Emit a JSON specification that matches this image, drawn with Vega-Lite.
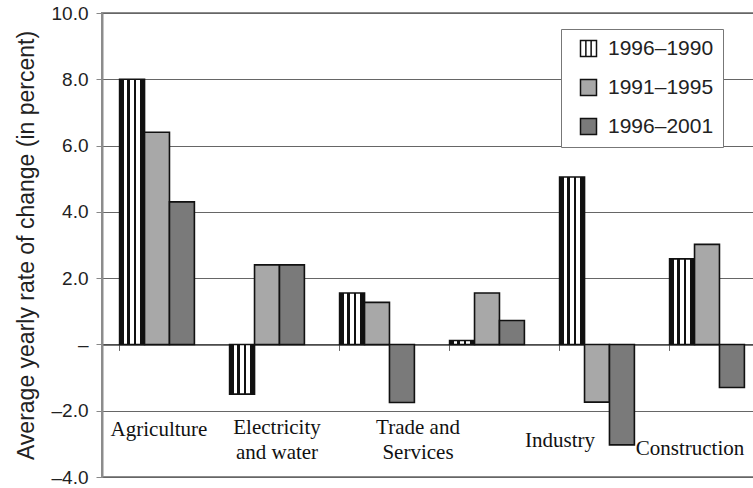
{
  "$schema": "https://vega.github.io/schema/vega-lite/v6.json",
  "width": 660,
  "height": 464,
  "autosize": {"type": "none"},
  "padding": {"left": 102, "top": 13, "right": 0, "bottom": 11},
  "background": "white",
  "config": {
    "view": {"stroke": "#8c8c8c", "strokeWidth": 2},
    "font": "Liberation Sans"
  },
  "datasets": {
    "bars": [
      {"sector": "Agriculture", "period": "1996–1990", "value": 8.0},
      {"sector": "Agriculture", "period": "1991–1995", "value": 6.4},
      {"sector": "Agriculture", "period": "1996–2001", "value": 4.3},
      {"sector": "Electricity and water", "period": "1996–1990", "value": -1.5},
      {"sector": "Electricity and water", "period": "1991–1995", "value": 2.4},
      {"sector": "Electricity and water", "period": "1996–2001", "value": 2.4},
      {"sector": "Trade and Services", "period": "1996–1990", "value": 1.55},
      {"sector": "Trade and Services", "period": "1991–1995", "value": 1.27},
      {"sector": "Trade and Services", "period": "1996–2001", "value": -1.75},
      {"sector": "(unlabelled)", "period": "1996–1990", "value": 0.12},
      {"sector": "(unlabelled)", "period": "1991–1995", "value": 1.55},
      {"sector": "(unlabelled)", "period": "1996–2001", "value": 0.72},
      {"sector": "Industry", "period": "1996–1990", "value": 5.05},
      {"sector": "Industry", "period": "1991–1995", "value": -1.74},
      {"sector": "Industry", "period": "1996–2001", "value": -3.03},
      {"sector": "Construction", "period": "1996–1990", "value": 2.58},
      {"sector": "Construction", "period": "1991–1995", "value": 3.02},
      {"sector": "Construction", "period": "1996–2001", "value": -1.3}
    ],
    "labels": [
      {"sector": "Agriculture", "label": "Agriculture", "ly": -2.76},
      {"sector": "Electricity and water", "label": "Electricity\nand water", "ly": -2.7},
      {"sector": "Trade and Services", "label": "Trade and\nServices", "ly": -2.7},
      {"sector": "Industry", "label": "Industry", "ly": -3.09},
      {"sector": "Construction", "label": "Construction", "ly": -3.33}
    ]
  },
  "layer": [
    {
      "data": {"name": "bars"},
      "mark": {"type": "bar", "stroke": "#111", "strokeWidth": 1.6},
      "encoding": {
        "x": {
          "field": "sector",
          "type": "nominal",
          "sort": null,
          "scale": {
            "domain": ["Agriculture", "Electricity and water", "Trade and Services", "(unlabelled)", "Industry", "Construction"],
            "paddingInner": 0.32,
            "paddingOuter": 0.16
          },
          "axis": {
            "orient": "bottom",
            "offset": {"expr": "scale('y', 0) - height"},
            "labels": false,
            "title": null,
            "grid": false,
            "domain": true,
            "domainColor": "#444",
            "domainWidth": 1.5,
            "ticks": true,
            "tickColor": "#666",
            "tickSize": 6,
            "bandPosition": 0
          }
        },
        "xOffset": {"field": "period", "type": "nominal", "sort": null},
        "y": {
          "field": "value",
          "type": "quantitative",
          "scale": {"domain": [-4, 10], "nice": false, "zero": false},
          "axis": {
            "title": "Average yearly rate of change (in percent)",
            "titleFont": "Liberation Sans",
            "titleFontSize": 23,
            "titleFontWeight": "normal",
            "titleColor": "#222",
            "titlePadding": 13,
            "values": [-4, -2, 0, 2, 4, 6, 8, 10],
            "labelExpr": "datum.value === 0 ? '–' : replace(format(datum.value, '.1f'), '−', '–')",
            "labelFont": "Liberation Sans",
            "labelFontSize": 19,
            "labelColor": "#222",
            "labelPadding": 8,
            "tickSize": 6,
            "tickColor": "#888",
            "domainColor": "#8c8c8c",
            "domainWidth": 2,
            "gridColor": "#666666",
            "gridWidth": 1
          }
        },
        "color": {
          "condition": {
            "test": "datum.period === '1996–1990'",
            "value": {
              "gradient": "linear",
              "x1": 0, "y1": 0, "x2": 1, "y2": 0,
              "stops": [
                {"offset": 0, "color": "#111"},
                {"offset": 0.16, "color": "#111"},
                {"offset": 0.16, "color": "#fff"},
                {"offset": 0.3, "color": "#fff"},
                {"offset": 0.3, "color": "#111"},
                {"offset": 0.4, "color": "#111"},
                {"offset": 0.4, "color": "#fff"},
                {"offset": 0.56, "color": "#fff"},
                {"offset": 0.56, "color": "#111"},
                {"offset": 0.66, "color": "#111"},
                {"offset": 0.66, "color": "#fff"},
                {"offset": 0.82, "color": "#fff"},
                {"offset": 0.82, "color": "#111"},
                {"offset": 1, "color": "#111"}
              ]
            }
          },
          "field": "period",
          "type": "nominal",
          "sort": null,
          "scale": {
            "domain": ["1996–1990", "1991–1995", "1996–2001"],
            "range": ["#ffffff", "#a8a8a8", "#7a7a7a"]
          },
          "legend": {
            "orient": "none",
            "legendX": 459,
            "legendY": 16,
            "title": null,
            "symbolType": {"expr": "datum.value === '1996–1990' ? 'M-1,-1H1V1H-1Z M-0.33,-1V1 M0.33,-1V1' : 'square'"},
            "symbolSize": 256,
            "symbolStrokeColor": "#111",
            "symbolStrokeWidth": 1.5,
            "labelFont": "Liberation Sans",
            "labelFontSize": 21,
            "labelColor": "#222",
            "labelOffset": 9,
            "labelLimit": 250,
            "rowPadding": 16,
            "padding": 9,
            "symbolOffset": 8,
            "strokeColor": "#777",
            "fillColor": "white"
          }
        }
      }
    },
    {
      "data": {"name": "labels"},
      "mark": {
        "type": "text",
        "font": "Liberation Serif",
        "fontSize": 21,
        "baseline": "alphabetic",
        "align": "center",
        "lineBreak": "\n",
        "lineHeight": 25,
        "color": "#111",
        "dx": {"expr": "datum.sector === 'Electricity and water' ? 10 : datum.sector === 'Trade and Services' ? 41 : datum.sector === 'Industry' ? -37 : datum.sector === 'Construction' ? -17 : 2"}
      },
      "encoding": {
        "x": {"field": "sector", "type": "nominal", "sort": null},
        "y": {"field": "ly", "type": "quantitative"},
        "text": {"field": "label", "type": "nominal"}
      }
    }
  ]
}
